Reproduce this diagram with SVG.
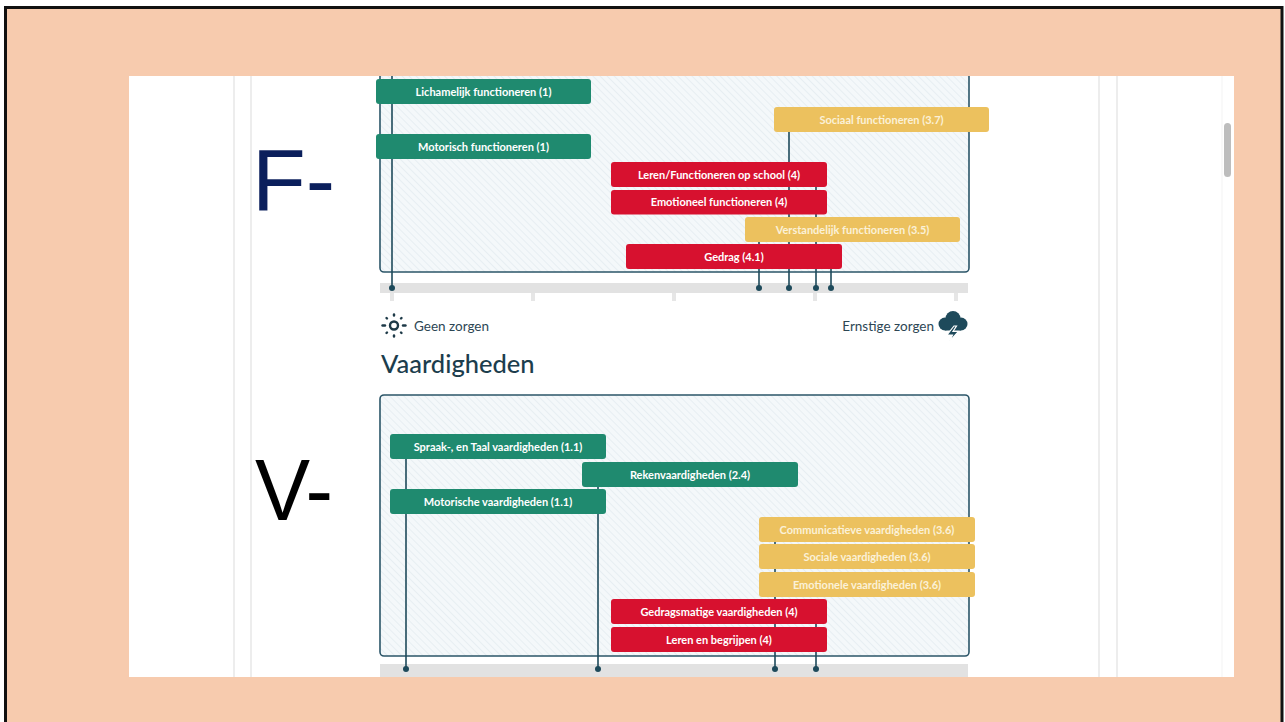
<svg xmlns="http://www.w3.org/2000/svg" width="1285" height="722" viewBox="0 0 1285 722">
<style>
.lbl{font-family:Lato,"Noto Sans","Liberation Sans",sans-serif;font-size:11px;font-weight:bold;fill:#ffffff;text-anchor:middle}
.lbly{fill:#FBF1D8}
.g{fill:#1F8A6F}
.r{fill:#D7112F}
.y{fill:#ECC15E}
.conn{stroke:#1E4A5B;stroke-width:1.6;fill:none}
.dot{fill:#1E4A5B}
.frame{fill:url(#hatch);stroke:#2B5568;stroke-width:1.6}
.band{fill:#E2E2E2}
.tick{fill:#E6E6E6}
.ui{font-family:Lato,"Noto Sans","Liberation Sans",sans-serif;fill:#2D4654}
.sep{stroke:#E7E7E7;stroke-width:1.5}
</style>
<defs>
<pattern id="hatch" patternUnits="userSpaceOnUse" width="5" height="5" patternTransform="rotate(-45)">
<rect width="5" height="5" fill="#F4F8FA"/>
<line x1="0" y1="0" x2="0" y2="5" stroke="#E0E9EE" stroke-width="1.3"/>
</pattern>
<clipPath id="shot"><rect x="129" y="76" width="1105" height="601"/></clipPath>
</defs>
<rect x="5.5" y="7.5" width="1276.5" height="718" fill="#F7CBAE" stroke="#111" stroke-width="3"/>
<rect x="129" y="76" width="1105" height="601" fill="#FFFFFF"/>
<g clip-path="url(#shot)">
<line class="sep" x1="234" y1="76" x2="234" y2="677"/>
<line class="sep" x1="251" y1="76" x2="251" y2="677"/>
<line class="sep" x1="1099" y1="76" x2="1099" y2="677"/>
<line class="sep" x1="1117" y1="76" x2="1117" y2="677"/>
<line x1="1222" y1="76" x2="1222" y2="677" stroke="#F3F3F3" stroke-width="1"/>
<rect x="1224" y="123" width="7" height="54" rx="3.5" fill="#BDBDBD"/>

<g id="chart-functioneren">
<rect class="frame" x="380" y="40" width="589" height="232" rx="4"/>
<rect class="band" x="380" y="283" width="588" height="10"/>
<rect class="tick" x="390" y="293" width="4" height="8"/>
<rect class="tick" x="531" y="293" width="4" height="8"/>
<rect class="tick" x="672" y="293" width="4" height="8"/>
<rect class="tick" x="813" y="293" width="4" height="8"/>
<rect class="tick" x="954" y="293" width="4" height="8"/>
</g>
<g id="chart-vaardigheden">
<rect class="frame" x="380" y="395" width="589" height="261" rx="4"/>
<rect class="band" x="380" y="664" width="588" height="14"/>
</g>

<g id="connectors">
<line class="conn" x1="392" y1="76" x2="392" y2="288"/>
<line class="conn" x1="789" y1="132" x2="789" y2="288"/>
<line class="conn" x1="816" y1="187" x2="816" y2="288"/>
<line class="conn" x1="759" y1="242" x2="759" y2="288"/>
<line class="conn" x1="831" y1="269" x2="831" y2="288"/>
<circle class="dot" cx="392" cy="288" r="3"/>
<circle class="dot" cx="759" cy="288" r="3"/>
<circle class="dot" cx="789" cy="288" r="3"/>
<circle class="dot" cx="816" cy="288" r="3"/>
<circle class="dot" cx="831" cy="288" r="3"/>
<line class="conn" x1="406" y1="459" x2="406" y2="669"/>
<line class="conn" x1="598" y1="487" x2="598" y2="669"/>
<line class="conn" x1="775" y1="542" x2="775" y2="669"/>
<line class="conn" x1="816" y1="624" x2="816" y2="669"/>
<circle class="dot" cx="406" cy="669" r="3"/>
<circle class="dot" cx="598" cy="669" r="3"/>
<circle class="dot" cx="775" cy="669" r="3"/>
<circle class="dot" cx="816" cy="669" r="3"/>
</g>

<g id="n-lichamelijk"><rect class="g" x="376" y="79" width="215" height="25" rx="3"/><text class="lbl" x="483.5" y="95.5">Lichamelijk functioneren (1)</text></g>
<g id="n-motorisch"><rect class="g" x="376" y="134" width="215" height="25" rx="3"/><text class="lbl" x="483.5" y="150.5">Motorisch functioneren (1)</text></g>
<g id="n-sociaal"><rect class="y" x="774" y="107" width="215" height="25" rx="3"/><text class="lbl lbly" x="881.5" y="123.5">Sociaal functioneren (3.7)</text></g>
<g id="n-leren-school"><rect class="r" x="611" y="162" width="216" height="25" rx="3"/><text class="lbl" x="719" y="178.5">Leren/Functioneren op school (4)</text></g>
<g id="n-emotioneel"><rect class="r" x="611" y="190" width="216" height="24.5" rx="3"/><text class="lbl" x="719" y="206">Emotioneel functioneren (4)</text></g>
<g id="n-verstandelijk"><rect class="y" x="745" y="217" width="215" height="25" rx="3"/><text class="lbl lbly" x="852.5" y="233.5">Verstandelijk functioneren (3.5)</text></g>
<g id="n-gedrag"><rect class="r" x="626" y="244" width="216" height="25" rx="3"/><text class="lbl" x="734" y="260.5">Gedrag (4.1)</text></g>

<g id="legend-geen">
<g stroke="#1E3A48" stroke-width="2.4" stroke-linecap="round" fill="none">
<circle cx="394" cy="325.5" r="4"/>
<line x1="382.5" y1="325.5" x2="385" y2="325.5"/>
<line x1="403" y1="325.5" x2="405.5" y2="325.5"/>
<line x1="394" y1="314.5" x2="394" y2="315.5"/>
<line x1="394" y1="335.5" x2="394" y2="336.5"/>
<line x1="386.5" y1="318" x2="387" y2="318.5"/>
<line x1="401.5" y1="318" x2="401" y2="318.5"/>
<line x1="386.5" y1="333" x2="387" y2="332.5"/>
<line x1="401.5" y1="333" x2="401" y2="332.5"/>
</g>
<text class="ui" x="414" y="331" font-size="13.5">Geen zorgen</text>
</g>
<g id="legend-ernstig">
<text class="ui" x="934" y="331" font-size="13.5" text-anchor="end">Ernstige zorgen</text>
<g fill="#1E4A5B">
<circle cx="945" cy="324" r="6.5"/>
<circle cx="953" cy="318.5" r="7.5"/>
<circle cx="961" cy="324" r="6.5"/>
<rect x="945" y="322" width="16" height="8.5"/>
</g>
<polygon points="954,326 947,335 952.5,335 949,342 958.5,331.5 953,331.5 956.5,326" fill="#1E4A5B" stroke="#FFFFFF" stroke-width="1.2"/>
</g>

<text id="title-vaardigheden" x="381" y="373" font-family="Lato,'Noto Sans','Liberation Sans',sans-serif" font-size="25.5" font-weight="500" fill="#1C3D4D">Vaardigheden</text>

<g id="n-spraak"><rect class="g" x="390" y="434" width="216" height="25" rx="3"/><text class="lbl" x="498" y="450.5">Spraak-, en Taal vaardigheden (1.1)</text></g>
<g id="n-reken"><rect class="g" x="582" y="462" width="216" height="25" rx="3"/><text class="lbl" x="690" y="478.5">Rekenvaardigheden (2.4)</text></g>
<g id="n-motorische"><rect class="g" x="390" y="489" width="216" height="25" rx="3"/><text class="lbl" x="498" y="505.5">Motorische vaardigheden (1.1)</text></g>
<g id="n-communicatieve"><rect class="y" x="759" y="517" width="216" height="25" rx="3"/><text class="lbl lbly" x="867" y="533.5">Communicatieve vaardigheden (3.6)</text></g>
<g id="n-sociale"><rect class="y" x="759" y="544" width="216" height="25" rx="3"/><text class="lbl lbly" x="867" y="560.5">Sociale vaardigheden (3.6)</text></g>
<g id="n-emotionele"><rect class="y" x="759" y="572" width="216" height="25" rx="3"/><text class="lbl lbly" x="867" y="588.5">Emotionele vaardigheden (3.6)</text></g>
<g id="n-gedragsmatige"><rect class="r" x="611" y="599" width="216" height="25" rx="3"/><text class="lbl" x="719" y="615.5">Gedragsmatige vaardigheden (4)</text></g>
<g id="n-leren-begrijpen"><rect class="r" x="611" y="627" width="216" height="25" rx="3"/><text class="lbl" x="719" y="643.5">Leren en begrijpen (4)</text></g>

<text id="label-f" x="252" y="210" font-family="'Liberation Sans',Arial,sans-serif" font-size="88" fill="#0B1F5C">F-</text>
<text id="label-v" x="255" y="520" font-family="'Liberation Sans',Arial,sans-serif" font-size="87" fill="#000000" textLength="78" lengthAdjust="spacingAndGlyphs">V-</text>
</g>
</svg>
